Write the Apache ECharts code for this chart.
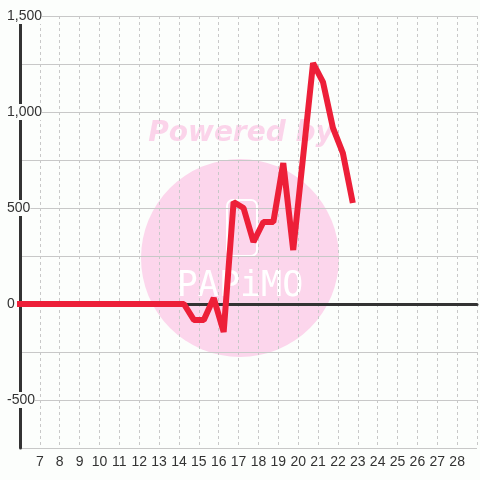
<!DOCTYPE html>
<html>
<head>
<meta charset="utf-8">
<script src="https://cdn.jsdelivr.net/npm/echarts@6/dist/echarts.min.js"></script>
<style>
  html, body { margin: 0; padding: 0; background: #fcfefc; }
  #chart { width: 480px; height: 480px; }
</style>
</head>
<body>
<div id="chart"></div>
<script>
  // x positions (day) and values
  var days = [5.75, 6.25, 6.75, 7.25, 7.75, 8.25, 8.75, 9.25, 9.75, 10.25, 10.75, 11.25, 11.75,
    12.25, 12.75, 13.25, 13.75, 14.25, 14.75, 15.25, 15.75, 16.25, 16.75, 17.25, 17.75,
    18.25, 18.75, 19.25, 19.75, 20.75, 21.25, 21.75, 22.25, 22.75]
  var values = [0, 0, 0, 0, 0, 0, 0, 0, 0, 0, 0, 0, 0,
    0, 0, 0, 0, 0, -83, -83, 31, -146, 531, 500, 323,
    427, 427, 734, 281, 1255, 1156, 917, 786, 526]
  var yTicks = [-500, 0, 500, 1000, 1500]

  var bg = '#fcfefc'
  var chart = echarts.init(document.getElementById('chart'))

  var points = days.map(function (d, i) { return [d, values[i]] })

  var option = {
    backgroundColor: bg,
    animation: false,
    grid: { left: 20, right: 0, top: 16, bottom: 32 },
    graphic: [
      {
        type: 'circle', z: -10,
        shape: { cx: 240, cy: 258, r: 99 },
        style: { fill: '#fcd6ec' }
      },
      {
        type: 'text', z: -10,
        style: {
          text: 'Powered by', x: 241, y: 134,
          textAlign: 'center', textVerticalAlign: 'middle',
          font: 'italic bold 28px "DejaVu Sans"', fill: '#fbd4ea'
        }
      },
      {
        type: 'rect', z: -9,
        shape: { x: 227, y: 200, width: 30, height: 56, r: 6 },
        style: { fill: 'none', stroke: '#ffffff', lineWidth: 2 }
      },
      {
        type: 'text', z: -9,
        style: {
          text: 'PAPiMO', x: 240, y: 287,
          textAlign: 'center', textVerticalAlign: 'middle',
          font: '35px "DejaVu Sans Mono"', fill: '#ffffff'
        }
      }
    ],
    xAxis: [
      {
        type: 'value', min: 6, max: 29, interval: 1, position: 'bottom',
        axisLine: { show: false, onZero: false },
        axisTick: { show: false },
        axisLabel: {
          color: '#333', fontSize: 14, fontFamily: 'Liberation Sans', margin: 7,
          formatter: function (v) { return (v > 6 && v < 29) ? String(v) : '' }
        },
        splitLine: { show: true, lineStyle: { color: '#c8c8c8', width: 1, type: [3, 3] } }
      },
      {
        type: 'value', min: 6, max: 29, position: 'top',
        axisLine: { show: true, onZero: true, lineStyle: { color: '#333', width: 3 } },
        axisTick: { show: false },
        axisLabel: { show: false },
        splitLine: { show: false }
      }
    ],
    yAxis: {
      type: 'value', min: -750, max: 1500, interval: 250,
      axisLine: { show: true, onZero: false, lineStyle: { color: '#333', width: 3 } },
      axisTick: { show: false },
      axisLabel: {
        color: '#333', fontSize: 14, fontFamily: 'Liberation Sans',
        align: 'left', margin: 13, backgroundColor: bg, padding: [1, 0],
        formatter: function (v) {
          return yTicks.indexOf(v) >= 0 ? v.toLocaleString('en-US') : ''
        }
      },
      splitLine: { show: true, lineStyle: { color: '#c8c8c8', width: 1 } }
    },
    series: [
      {
        type: 'line',
        xAxisIndex: 0,
        data: points,
        showSymbol: false,
        symbol: 'none',
        clip: true,
        lineStyle: { color: '#ed1f38', width: 6, cap: 'butt', join: 'bevel' }
      }
    ]
  }

  chart.setOption(option)
</script>
</body>
</html>
